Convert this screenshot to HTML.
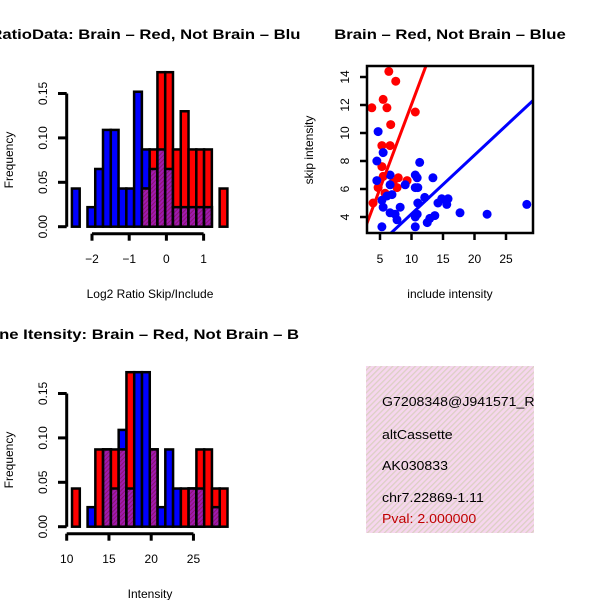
<!DOCTYPE html>
<html><head><meta charset="utf-8"><style>
html,body{margin:0;padding:0;background:#fff}
svg{display:block}
text{font-family:"Liberation Sans",Arial,sans-serif}
</style></head><body>
<svg id="c" width="600" height="600" xmlns="http://www.w3.org/2000/svg">
<defs>
<clipPath id="clipL"><rect x="0" y="0" width="300" height="600"/></clipPath>
<clipPath id="clipBox"><rect x="366" y="366" width="168" height="167"/></clipPath>
<pattern id="hatch" width="4" height="4" patternUnits="userSpaceOnUse" patternTransform="rotate(45)">
<rect width="4" height="4" fill="#f6d6ee"/><rect width="1.3" height="4" fill="#dcd0c4"/></pattern>
<pattern id="phatch" width="3" height="3" patternUnits="userSpaceOnUse" patternTransform="rotate(45)">
<rect width="3" height="3" fill="#a01ab0"/><rect width="1" height="3" fill="#8a1470"/></pattern>
</defs>
<g id="left" clip-path="url(#clipL)"></g>
<g id="right"></g>
</svg>
<script>
// ---- Histogram 1: Log2 ratio ----
const h1Start = -2.54, h1Width = 0.209;
const h1Blue = [0.043,0,0.022,0.065,0.109,0.109,0.043,0.043,0.152,0.087,0.065,0.087,0.065,0.022,0.022,0.022,0.022,0.022,0,0];
const h1Red  = [0,0,0,0,0,0,0,0,0,0.043,0.087,0.174,0.174,0.087,0.130,0.087,0.087,0.087,0,0.043];
const h1XTicks = [-2,-1,0,1];
const yTicks = [0,0.05,0.10,0.15];
const yTickLabels = ["0.00","0.05","0.10","0.15"];
// ---- Histogram 2: Intensity ----
const h2Start = 10.63, h2Width = 0.92;
const h2Blue = [0,0,0.022,0,0.087,0.043,0.109,0.043,0.174,0.174,0.087,0.022,0.087,0.043,0,0.043,0.043,0,0.022,0];
const h2Red  = [0.043,0,0,0.087,0.087,0.087,0.087,0.174,0,0,0.087,0,0,0,0.043,0.043,0.087,0.087,0.043,0.043];
const h2XTicks = [10,15,20,25];
// ---- Scatter ----
const redX = [6.4,7.5,3.7,5.5,6.1,10.6,6.7,5.3,6.6,5.3,5.5,7.9,9.3,7.7,4.7,3.9,5.8,7.1];
const redY = [14.4,13.7,11.8,12.4,11.8,11.5,10.6,9.1,9.1,7.6,6.9,6.8,6.6,6.1,6.1,5.0,5.7,6.5];
const blueX = [4.7,5.5,4.5,11.3,4.5,6.6,10.6,10.9,13.4,9,6.6,10.6,11,6.1,6.9,5.3,12.1,11,14.8,15.8,14.2,15.6,5.5,8.2,6.6,7.4,10.9,13.7,12.9,12.5,17.7,22,28.3,5.3,10.6,7.7,10.6];
const blueY = [10.1,8.6,8.0,7.9,6.6,7.0,7.0,6.8,6.8,6.3,6.3,6.1,6.1,5.5,5.6,5.2,5.4,5.0,5.3,5.3,5.0,4.9,4.7,4.7,4.3,4.2,4.2,4.1,3.9,3.6,4.3,4.2,4.9,3.3,3.3,3.8,4.0];
const redFit = [0.04,1.2];   // intercept, slope
const blueFit = [0.02,0.42];
const sXTicks = [5,10,15,20,25];
const sYTicks = [4,6,8,10,12,14];
const infoLines = ["G7208348@J941571_RC","altCassette","AK030833","chr7.22869-1.11"];
const pvalText = "Pval: 2.000000";

const NS="http://www.w3.org/2000/svg";
function mk(parent,tag,attrs,txt){const e=document.createElementNS(NS,tag);for(const k in attrs)e.setAttribute(k,attrs[k]);if(txt!==undefined)e.textContent=txt;parent.appendChild(e);return e;}
function widen(t,k){try{const w=t.getComputedTextLength();if(w>0){t.setAttribute('textLength',w*k);t.setAttribute('lengthAdjust','spacingAndGlyphs');}}catch(e){}}
const L=document.getElementById('left'), R=document.getElementById('right');

function hist(g,oy,start,width,blue,red,xt,xs0,xv0,xpu,title,xlab){
  const y=v=>oy+226.7-v*888;
  const x=v=>xs0+(v-xv0)*xpu;
  const n=blue.length;
  for(let i=0;i<n;i++){
    const x0=x(start+i*width), x1=x(start+(i+1)*width);
    const b=blue[i], r=red[i];
    if(b>0){const e=mk(g,'rect',{x:x0,y:y(b),width:x1-x0,height:y(0)-y(b),fill:'#0000ff',stroke:'#000','stroke-width':2.5});
      
      }
    if(r>0){const e=mk(g,'rect',{x:x0,y:y(r),width:x1-x0,height:y(0)-y(r),fill:'#ff0000',stroke:'#000','stroke-width':2.5});
      
      }
    const m=Math.min(b,r);
    if(m>0){const e=mk(g,'rect',{x:x0,y:y(m),width:x1-x0,height:y(0)-y(m),fill:'url(#phatch)',stroke:'#000','stroke-width':2.5});
      
      }
  }
  const ya=mk(g,'g',{});
  
  
  mk(ya,'line',{x1:66.7,x2:66.7,y1:y(0.15),y2:y(0),stroke:'#000','stroke-width':3});
  yTicks.forEach((v,i)=>{mk(ya,'line',{x1:58,x2:66.7,y1:y(v),y2:y(v),stroke:'#000','stroke-width':3});
    const t=mk(ya,'text',{x:0,y:0,'font-size':12,'text-anchor':'middle',transform:`translate(47,${y(v)}) rotate(-90)`},yTickLabels[i]);
    
    });
  const xa=mk(g,'g',{});
  
  
  const ay=oy+233.7;
  mk(xa,'line',{x1:x(xt[0]),x2:x(xt[xt.length-1]),y1:ay,y2:ay,stroke:'#000','stroke-width':3});
  xt.forEach(v=>{mk(xa,'line',{x1:x(v),x2:x(v),y1:ay,y2:ay+7,stroke:'#000','stroke-width':3});
    const t=mk(xa,'text',{x:x(v),y:oy+263,'font-size':12,'text-anchor':'middle'},String(v).replace('-','\u2212'));
    
    });
  const tt=mk(g,'text',{x:150,y:oy+39,'font-size':14,'font-weight':'bold','text-anchor':'middle'},title);
  
  
  widen(tt,1.19);
  const xl=mk(g,'text',{x:150,y:oy+298,'font-size':12,'text-anchor':'middle'},xlab);
  
  
  const yl=mk(g,'text',{x:0,y:0,'font-size':12,'text-anchor':'middle',transform:`translate(13,${oy+160}) rotate(-90)`},'Frequency');
  
  
}
hist(L,0,h1Start,h1Width,h1Blue,h1Red,h1XTicks,92,-2,37.2,'RatioData: Brain \u2013 Red, Not Brain \u2013 Blue','Log2 Ratio Skip/Include');
hist(L,300,h2Start,h2Width,h2Blue,h2Red,h2XTicks,66.7,10,8.45,'Gene Itensity: Brain \u2013 Red, Not Brain \u2013 Blue','Intensity');

// scatter
const sx=v=>380+(v-5)*6.3, sy=v=>217-(v-4)*14;
const sg=mk(R,'g',{});


mk(sg,'clipPath',{id:'clipS'}).appendChild(document.createElementNS(NS,'rect'));
const cr=sg.querySelector('#clipS rect');cr.setAttribute('x',367);cr.setAttribute('y',66);cr.setAttribute('width',166);cr.setAttribute('height',167);
const pg=mk(sg,'g',{'clip-path':'url(#clipS)'});
redX.forEach((v,i)=>{const c=mk(pg,'circle',{cx:sx(v),cy:sy(redY[i]),r:4.5,fill:'#ff0000'});
  
  });
blueX.forEach((v,i)=>{const c=mk(pg,'circle',{cx:sx(v),cy:sy(blueY[i]),r:4.5,fill:'#0000ff'});
  
  });
[[redFit,'#ff0000','red-fit-line'],[blueFit,'#0000ff','blue-fit-line']].forEach(([f,col,nm])=>{
  const a=0,b=32;const l=mk(pg,'line',{x1:sx(a),y1:sy(f[0]+f[1]*a),x2:sx(b),y2:sy(f[0]+f[1]*b),stroke:col,'stroke-width':3});
  
  });
mk(sg,'rect',{x:367,y:66,width:166,height:167,fill:'none',stroke:'#000','stroke-width':2.5});
sXTicks.forEach(v=>{mk(sg,'line',{x1:sx(v),x2:sx(v),y1:233,y2:240,stroke:'#000','stroke-width':2.5});
  const t=mk(sg,'text',{x:sx(v),y:263,'font-size':12,'text-anchor':'middle'},String(v));
  
  });
sYTicks.forEach(v=>{mk(sg,'line',{x1:360,x2:367,y1:sy(v),y2:sy(v),stroke:'#000','stroke-width':2.5});
  const t=mk(sg,'text',{x:0,y:0,'font-size':12,'text-anchor':'middle',transform:`translate(349,${sy(v)}) rotate(-90)`},String(v));
  
  });
const st=mk(sg,'text',{x:450,y:39,'font-size':14,'font-weight':'bold','text-anchor':'middle'},'Brain \u2013 Red, Not Brain \u2013 Blue');


widen(st,1.19);
const sxl=mk(sg,'text',{x:450,y:298,'font-size':12,'text-anchor':'middle'},'include intensity');


const syl=mk(sg,'text',{x:0,y:0,'font-size':12,'text-anchor':'middle',transform:'translate(313,150) rotate(-90)'},'skip intensity');



// info box
const ib=mk(R,'g',{'clip-path':'url(#clipBox)'});


mk(ib,'rect',{x:366,y:366,width:168,height:167,fill:'url(#hatch)'});
const by=[406,439,470,502];
infoLines.forEach((s,i)=>{const t=mk(ib,'text',{x:382,y:by[i],'font-size':12.5,fill:'#000'},s);
  
  
  widen(t,1.13);});
const pv=mk(ib,'text',{x:382,y:523,'font-size':12.5,fill:'#c00000'},pvalText);


widen(pv,1.13);
</script>
</body></html>
